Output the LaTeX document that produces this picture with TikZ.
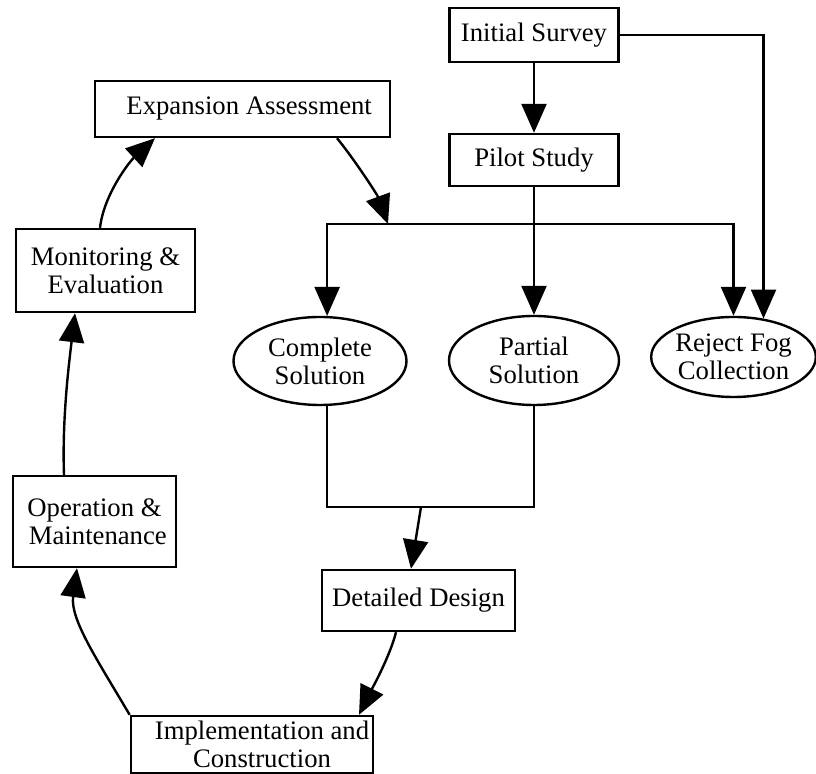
\documentclass[tikz,border=0pt]{standalone}
\usepackage{fontspec}
\setmainfont{Liberation Serif}
\usepackage{tikz}
\usetikzlibrary{
	shapes.geometric,   %椭圆
	calc,               %计算
	positioning,        %定位
	arrows.meta         %箭头
}
\tikzstyle{stage}=[rectangle,
draw,
line width=1.2pt,
align=center,
inner sep=2pt,
font=\fontsize{13.35pt}{13.9pt}\selectfont]
\tikzstyle{outcome}=[ellipse,
draw,
line width=1.2pt,
align=center,
inner sep=0pt,
font=\fontsize{13.35pt}{13.9pt}\selectfont]
\tikzset{
	every picture/.style={
		>={Triangle[length=14.5pt,width=12.5pt]},
		line width=1.2pt
}}

\begin{document}
\begin{tikzpicture}[x=0.5pt,y=-0.5pt]
\useasboundingbox (0,0) rectangle (816,774);
% stages of the cycle
\node[stage,minimum width=84.5pt,minimum height=27pt] (survey) at (534,35) {Initial Survey};
\node[stage,minimum width=84.5pt,minimum height=26pt] (pilot) at (534,160) {Pilot Study};
\node[stage,minimum width=147.5pt,minimum height=28pt] (expansion) at (242.5,109) {\ \ Expansion Assessment};
\node[stage,minimum width=89.5pt,minimum height=41.5pt] (monitor) at (105.5,270.5) {Monitoring \&\\Evaluation};
\node[stage,minimum width=81.5pt,minimum height=45.5pt] (operation) at (94.5,521.5) {Operation \&\\\ Maintenance};
\node[stage,minimum width=96.5pt,minimum height=30.5pt] (design) at (418.5,600.5) {Detailed Design};
\node[stage,minimum width=119pt,minimum height=28.5pt] (implement) at (252,744.5) {\ \ \ Implementation and\\\ \ \ Construction};
% possible outcomes
\node[outcome,minimum width=86.5pt,minimum height=44pt] (complete) at (320,361) {Complete\\Solution};
\node[outcome,minimum width=85pt,minimum height=44.5pt] (partial) at (534,360.5) {Partial\\Solution};
\node[outcome,minimum width=81.5pt,minimum height=40pt] (reject) at (733.5,357) {Reject Fog\\Collection};
\coordinate (split) at (534,224);
\coordinate (merge) at (388,224);
\coordinate (join) at (421,507);
% connectors
\draw[->] (survey) -- (pilot);
\draw[->] (survey.east) -| (reject.52);
\draw[->] (pilot) -- (partial);
\draw[->] (split) -| (complete.81);
\draw[->] (split) -| (reject.north);
\draw[->] ($(expansion.south)+(94.5,0)$) .. controls +(15,18) and +(-11,-30) .. (merge);
\draw (complete.-81) |- (join) -| (partial.south);
\draw[->] (join) -- ($(design.north)+(-7.5,0)$);
\draw[->] ($(design.south)+(-22.5,0)$) .. controls +(-6,24) and +(13,-26) .. ($(implement.north)+(107,0)$);
\draw[->] (implement.north west) .. controls +(-33,-56) and +(-7,51) .. ($(operation.south)+(-17.5,0)$);
\draw[->] ($(operation.north)+(-30.5,0)$) .. controls +(-2,-56) and +(-6,50) .. ($(monitor.south)+(-30.5,0)$);
\draw[->] ($(monitor.north)+(-5.5,0)$) .. controls +(4,-34) and +(-25,23) .. ($(expansion.south)+(-87.5,0)$);
\end{tikzpicture}
\end{document}
